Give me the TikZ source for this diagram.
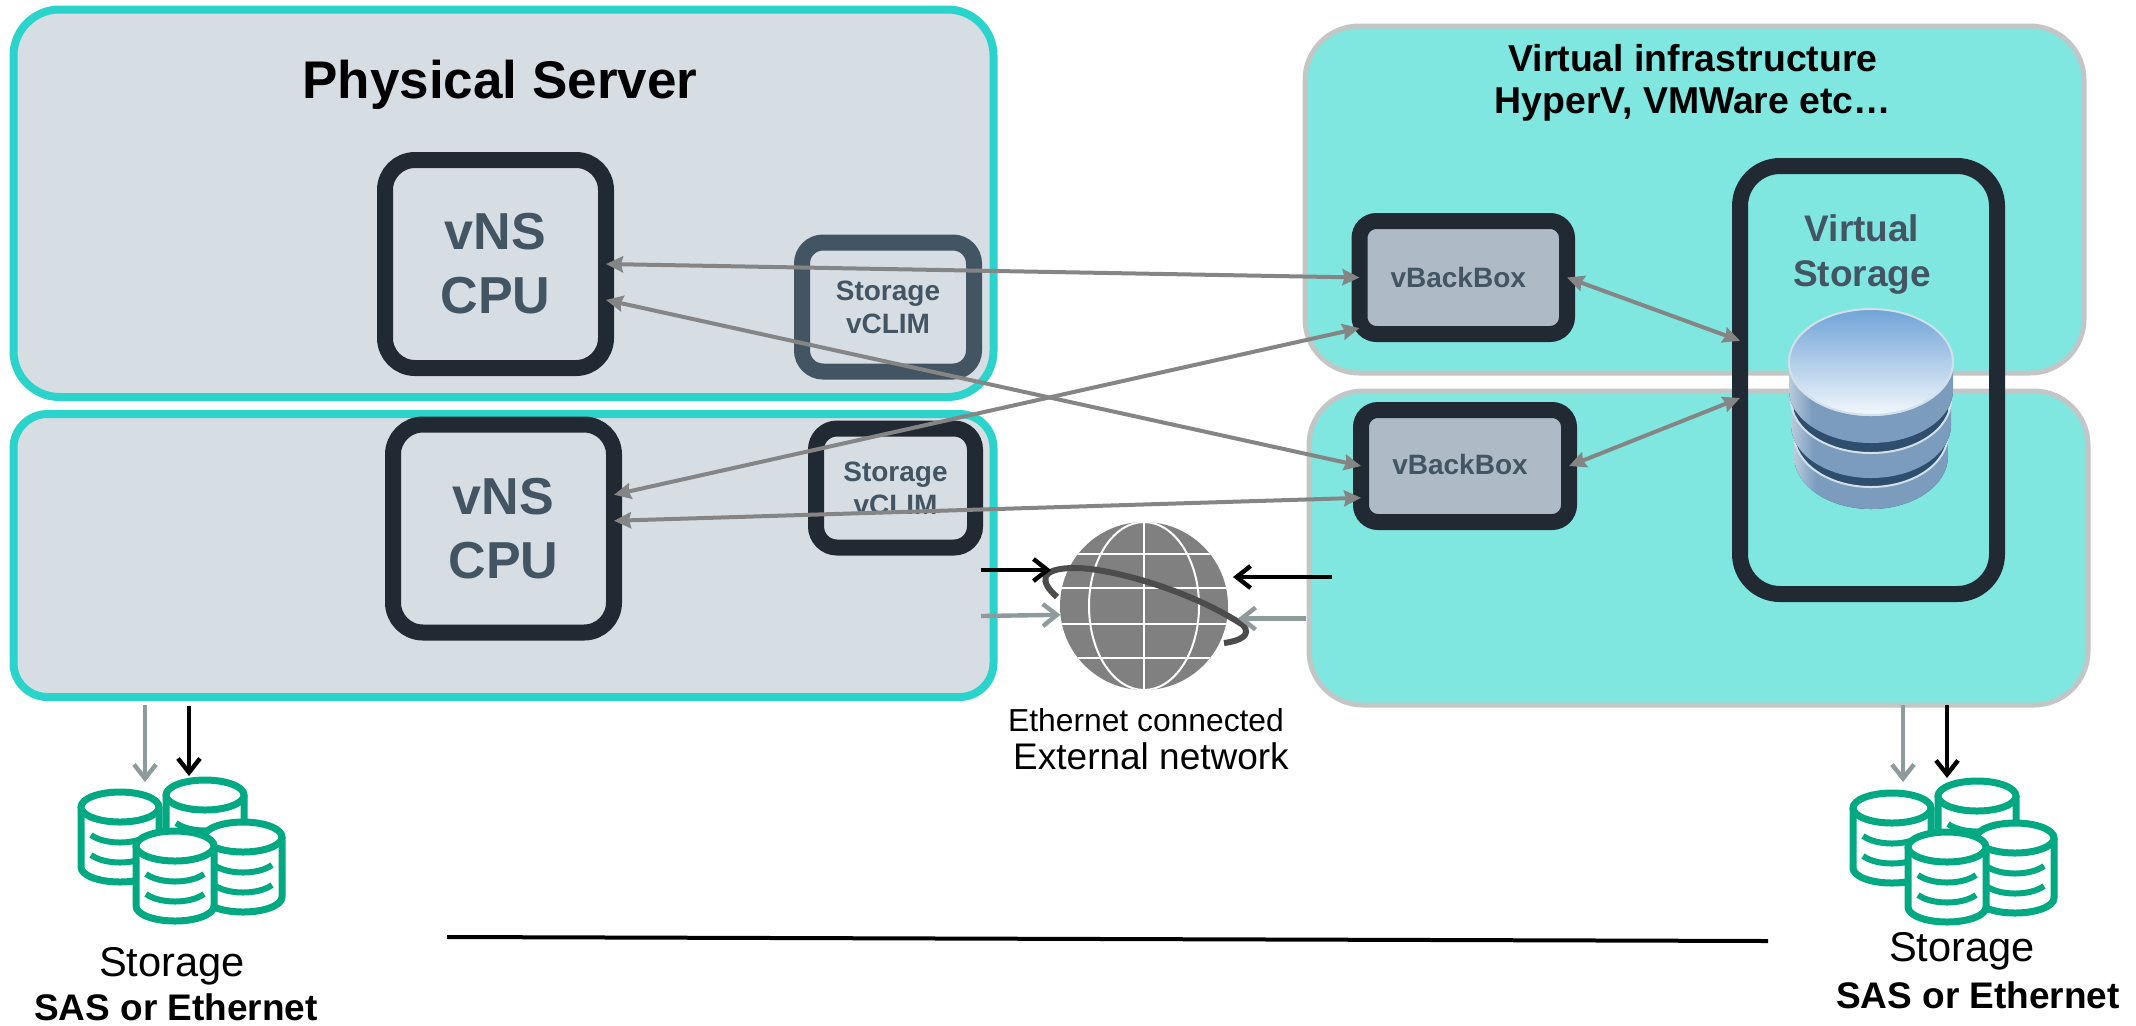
\documentclass[tikz,border=0pt]{standalone}
\usepackage{fontspec}
\setmainfont{Liberation Sans}
\usetikzlibrary{arrows.meta}
\definecolor{slatetext}{HTML}{435563}
\definecolor{darkframe}{HTML}{212A32}
\definecolor{serverfill}{HTML}{D6DEE4}
\definecolor{serveredge}{HTML}{2AD4CB}
\definecolor{infrafill}{HTML}{7FE7E0}
\definecolor{infraedge}{HTML}{C3C6C6}
\definecolor{backfill}{HTML}{AEBBC7}
\definecolor{linkgray}{HTML}{858585}
\definecolor{netgray}{HTML}{8F9A9D}
\definecolor{diskgreen}{HTML}{01A982}
\definecolor{dbA}{HTML}{2F4E6E}
\definecolor{dbB}{HTML}{7C9CBE}
\definecolor{dbC}{HTML}{D2E0EB}
\definecolor{dbD}{HTML}{1E3A58}
\definecolor{dbtop}{HTML}{6FA3D6}
\definecolor{dbmid}{HTML}{A9C8E8}
\definecolor{dblow}{HTML}{F2F7FC}
\pgfdeclarehorizontalshading{dbside}{100bp}{color(0bp)=(dbA); color(8bp)=(dbB); color(22bp)=(dbC); color(32bp)=(dbB); color(75bp)=(dbB); color(100bp)=(dbD)}
\tikzset{
    serverbox/.style={draw=serveredge,fill=serverfill,line width=4pt,minimum width=490pt,outer sep=0pt},
    infrabox/.style={draw=infraedge,fill=infrafill,line width=2.5pt,rounded corners=27pt,outer sep=0pt},
    vnsbox/.style={draw=darkframe,line width=8pt,rounded corners=15pt,minimum width=110.5pt,minimum height=104pt,outer sep=0pt,align=center,text=slatetext,font=\bfseries\fontsize{26}{32}\selectfont},
    vclimbox/.style={line width=8pt,rounded corners=10.5pt,outer sep=0pt,align=center,text=slatetext,font=\bfseries\fontsize{14}{16.5}\selectfont},
    backbox/.style={draw=darkframe,fill=backfill,line width=8pt,rounded corners=8.5pt,outer sep=0pt,text=slatetext,font=\bfseries\fontsize{14}{17}\selectfont},
    link/.style={draw=linkgray,line width=2pt,{Stealth[length=8.5pt,width=8pt,inset=1pt]}-{Stealth[length=8.5pt,width=8pt,inset=1pt]}},
    netarrow/.style={line width=2.2pt,-{Straight Barb[length=7pt,width=11pt,line width=2.2pt]}},
    storagelabel/.style={font=\fontsize{20.8}{25}\selectfont},
    saslabel/.style={font=\bfseries\fontsize{18.5}{22}\selectfont},
    diskstack/.pic={
        \draw[diskgreen,fill=white,line width=3.5pt] (-39,0) -- (-39,60) arc[start angle=180,end angle=0,x radius=39,y radius=15] -- (39,0);
        \draw[diskgreen,fill=white,line width=3.5pt] (0,0) ellipse[x radius=39,y radius=15];
        \draw[diskgreen,line width=3pt] (-29,28) .. controls (-15,38) and (15,38) .. (29,28);
        \draw[diskgreen,line width=3pt] (-29,48) .. controls (-15,58) and (15,58) .. (29,48);
    }
}
\begin{document}
\begin{tikzpicture}[x=0.5pt,y=-0.5pt]
    \useasboundingbox (0,0) rectangle (2136,1025);

    \node[serverbox,rounded corners=23pt,minimum height=193.75pt] (serverA) at (503.5,203.25) {};
    \node[serverbox,rounded corners=17pt,minimum height=141.5pt] (serverB) at (503.5,555.5) {};
    \node[infrabox,minimum width=389.5pt,minimum height=173.5pt] (infraA) at (1694.5,199.5) {};
    \node[infrabox,minimum width=389.5pt,minimum height=157pt] (infraB) at (1698.5,548) {};

    \node[font=\bfseries\fontsize{26.5}{32}\selectfont] (servertitle) at (500,85) {Physical Server};
    \node[align=center,font=\bfseries\fontsize{18.7}{21}\selectfont] (infratitle) at (1693,83) {Virtual infrastructure\\HyperV, VMWare etc…};

    \node[vnsbox] (vnsA) at (495.5,264) {vNS\\CPU};
    \node[vnsbox] (vnsB) at (503.5,528.5) {vNS\\CPU};
    \node[vclimbox,draw=slatetext,minimum width=86pt,minimum height=64.5pt] (vclimA) at (888,307) {Storage\\vCLIM};
    \node[vclimbox,draw=darkframe,minimum width=79.5pt,minimum height=59.5pt] (vclimB) at (895.5,488) {Storage\\vCLIM};
    \node[backbox,minimum width=103.75pt,minimum height=56.5pt] (backboxA) at (1463.25,277.5) {vBackBox\kern5pt};
    \node[backbox,minimum width=104pt,minimum height=56pt] (backboxB) at (1465,466) {\raisebox{1.5pt}{vBackBox}\kern5pt};

    \node[draw=darkframe,line width=8pt,rounded corners=20pt,minimum width=128.5pt,minimum height=214pt,outer sep=0pt] (vstorage) at (1868.5,380) {};
    \node[align=center,text=slatetext,font=\bfseries\fontsize{18.5}{22.5}\selectfont] (vstoragetext) at (1862,255) {Virtual\\Storage};

    \foreach \cy/\cb/\rx in {434/456/77,400/425/80,362/390/82} {
        \fill[dbA] (1871,\cb) ellipse[x radius=\rx,y radius=53];
        \shade[shading=dbside] (1871-\rx,\cy) -- (1871-\rx,\cb) arc[start angle=180,end angle=0,x radius=\rx,y radius=53] -- (1871+\rx,\cy) arc[start angle=0,end angle=180,x radius=\rx,y radius=53] -- cycle;
        \draw[dbC,line width=1pt] (1871-\rx,\cy) arc[start angle=180,end angle=0,x radius=\rx,y radius=53];
    }
    \shade[top color=dbtop,middle color=dbmid,bottom color=dblow,draw=dbC,line width=1pt] (1871,362) ellipse[x radius=82,y radius=53];

    \draw[link] (vnsA.0) -- (backboxA.180);
    \draw[link] (vnsA.-18.5) -- (backboxB.180);
    \draw[link] (vnsB.17.8) -- (backboxA.206);
    \draw[link] (vnsB.4.4) -- (backboxB.197.1);
    \draw[link] (backboxA.0) -- (vstorage.163.9);
    \draw[link] (backboxB.0) -- (vstorage.188);

    \node[circle,fill=black!50,minimum size=84pt,inner sep=0pt,outer sep=0pt] (globe) at (1144,606) {};
    \begin{scope}
        \clip (1144,606) circle[radius=84];
        \draw[white,line width=1pt] (globe.center) ellipse[x radius=55,y radius=84];
        \draw[white,line width=1pt] (globe.north) -- (globe.south);
        \foreach \gy in {554,588,624,658}
            \draw[white,line width=1pt] (1060,\gy) -- (1228,\gy);
    \end{scope}
    \draw[black!70,line width=3pt] (1057,597) .. controls (1040,582) and (1038,568) .. (1075,568) .. controls (1110,568) and (1190,590) .. (1243,625) .. controls (1252,635) and (1240,641) .. (1224,643);

    \coordinate (netblackA) at (981,570);
    \coordinate (netblackB) at (1051,570);
    \coordinate (netblackC) at (1332,577);
    \coordinate (netblackD) at (1233,577);
    \coordinate (netgrayA) at (981,616);
    \coordinate (netgrayB) at (1306,618.5);
    \coordinate (netgrayC) at (1238,618.5);
    \draw[netarrow] (netblackA) -- (netblackB);
    \draw[netarrow] (netblackC) -- (netblackD);
    \draw[netarrow,netgray] (netgrayA) -- (globe.186.8);
    \draw[netarrow,netgray] (netgrayB) -- (netgrayC);

    \node[font=\fontsize{15.9}{19}\selectfont] (ethertext) at (1146,720) {Ethernet connected};
    \node[font=\fontsize{18.5}{22}\selectfont] (externaltext) at (1151,756) {External network};

    \foreach \sx/\sy in {0/0,1772/1} {
        \pic at (205+\sx,795+\sy) {diskstack};
        \pic at (120+\sx,807+\sy) {diskstack};
        \pic at (243+\sx,837+\sy) {diskstack};
        \pic at (175+\sx,846+\sy) {diskstack};
    }

    \coordinate (diskgrayA) at (145,705);
    \coordinate (diskgrayB) at (145,782);
    \coordinate (diskblackA) at (189,706);
    \coordinate (diskblackB) at (189,776);
    \coordinate (diskgrayC) at (1903,705);
    \coordinate (diskgrayD) at (1903,782);
    \coordinate (diskblackC) at (1947,705);
    \coordinate (diskblackD) at (1947,778);
    \draw[netarrow,netgray] (diskgrayA) -- (diskgrayB);
    \draw[netarrow] (diskblackA) -- (diskblackB);
    \draw[netarrow,netgray] (diskgrayC) -- (diskgrayD);
    \draw[netarrow] (diskblackC) -- (diskblackD);

    \node[storagelabel] (storageA) at (172,966) {Storage};
    \node[saslabel] (sasA) at (176,1007) {SAS or Ethernet};
    \node[storagelabel] (storageB) at (1962,951) {Storage};
    \node[saslabel] (sasB) at (1978,995) {SAS or Ethernet};

    \coordinate (baselineA) at (447,937);
    \coordinate (baselineB) at (1768,941);
    \draw[black,line width=2pt] (baselineA) -- (baselineB);
\end{tikzpicture}
\end{document}
